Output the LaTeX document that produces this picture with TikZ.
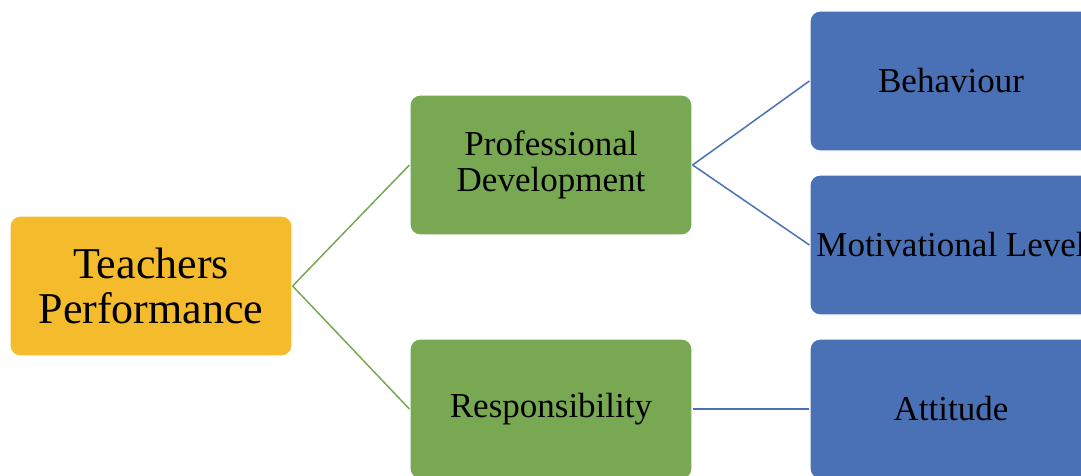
\documentclass[tikz,border=0pt]{standalone}
\usepackage{fontspec}
\setmainfont{Liberation Serif}
\usepackage{tikz}

\definecolor{boxgold}{HTML}{F4BC2C}
\definecolor{boxgreen}{HTML}{78A851}
\definecolor{boxblue}{HTML}{4A71B6}

\tikzset{
	box/.style={draw=white, line width=1.2pt, rounded corners=10pt,
		minimum width=282pt, minimum height=140pt, align=center,
		inner sep=0pt, text=black},
	rootbox/.style={box, fill=boxgold,
		font=\fontsize{44}{45.5}\selectfont},
	midbox/.style={box, fill=boxgreen,
		font=\fontsize{35}{36.5}\selectfont},
	leafbox/.style={box, fill=boxblue,
		font=\fontsize{35}{36.5}\selectfont},
	greenlink/.style={draw=boxgreen, line width=1.5pt},
	bluelink/.style={draw=boxblue, line width=1.5pt},
}

\begin{document}
\begin{tikzpicture}[x=1pt, y=-1pt]

	% ---- canvas

	\useasboundingbox (0,0) rectangle (1081,476);

	% ---- nodes

	\node[rootbox] (TP) at (151,286) {Teachers\\Performance};

	\node[midbox] (PD) at (551,165) {Professional\\Development};
	\node[midbox] (RS) at (551,409) {Responsibility};

	\node[leafbox] (BH) at (951,81)  {Behaviour};
	\node[leafbox] (ML) at (951,245) {Motivational Level};
	\node[leafbox] (AT) at (951,409) {Attitude};

	% ---- connectors

	\draw[greenlink] (TP.east) -- (PD.west);
	\draw[greenlink] (TP.east) -- (RS.west);

	\draw[bluelink] (PD.east) -- (BH.west);
	\draw[bluelink] (PD.east) -- (ML.west);
	\draw[bluelink] (RS.east) -- (AT.west);

\end{tikzpicture}
\end{document}
